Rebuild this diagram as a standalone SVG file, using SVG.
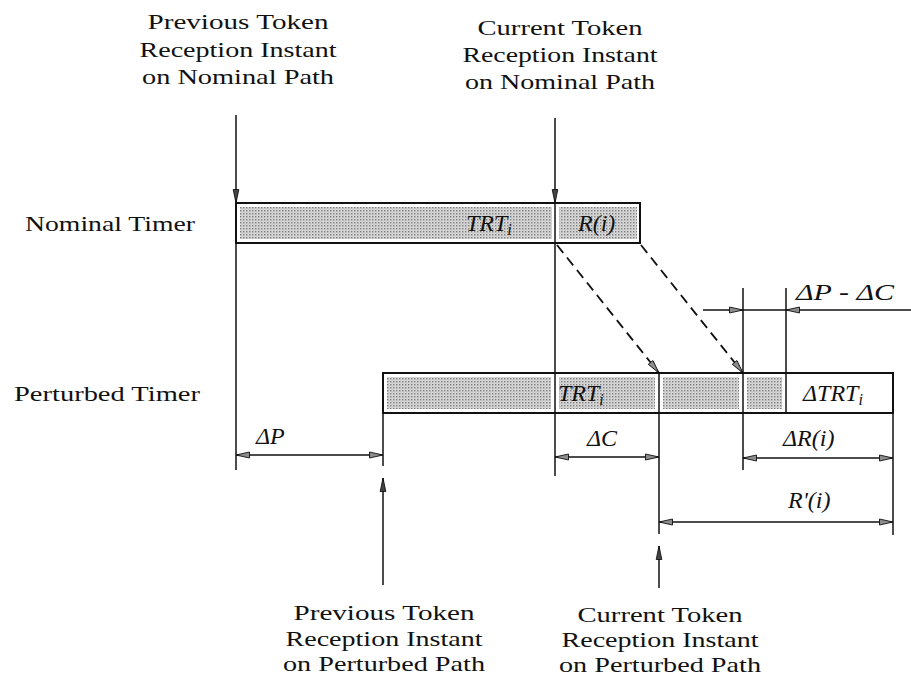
<svg xmlns="http://www.w3.org/2000/svg" width="911" height="677" viewBox="0 0 911 677">
<defs>
<pattern id="dots" width="3" height="3" patternUnits="userSpaceOnUse">
<rect width="3" height="3" fill="#dcdcdc"/>
<rect x="0" y="0" width="1.4" height="1.4" fill="#7a7a7a"/>
<rect x="1.5" y="1.5" width="1" height="1" fill="#a8a8a8"/>
</pattern>
<marker id="ah" markerUnits="userSpaceOnUse" markerWidth="16" markerHeight="8" refX="14" refY="4" orient="auto-start-reverse">
<path d="M0.5,1 L14,4 L0.5,7 z" fill="#8c8c8c" stroke="#111" stroke-width="0.9"/>
</marker>
<marker id="ahd" markerUnits="userSpaceOnUse" markerWidth="16" markerHeight="8" refX="14" refY="4" orient="auto">
<path d="M0.5,1.2 L14,4 L0.5,6.8 z" fill="#444" stroke="#111" stroke-width="0.9"/>
</marker>
</defs>
<style>
.lbl{font-family:"Liberation Serif","Times New Roman",serif;font-size:22px;fill:#111;text-anchor:middle}
.it{font-family:"Liberation Serif","Times New Roman",serif;font-size:24px;font-style:italic;fill:#111}
.sub{font-size:16px}
.box{fill:none;stroke:#111;stroke-width:2}
.sh{fill:url(#dots)}
.ln{stroke:#111;stroke-width:1.5;fill:none}
.dim{stroke:#111;stroke-width:1.5;fill:none;marker-start:url(#ah);marker-end:url(#ah)}
.dash{stroke:#111;stroke-width:1.8;fill:none;stroke-dasharray:10 6;marker-end:url(#ah)}
</style>

<g id="label-prev-nominal">
<text class="lbl" x="238" y="29" textLength="181" lengthAdjust="spacingAndGlyphs">Previous Token</text>
<text class="lbl" x="238" y="57" textLength="197" lengthAdjust="spacingAndGlyphs">Reception Instant</text>
<text class="lbl" x="238" y="84" textLength="192" lengthAdjust="spacingAndGlyphs">on Nominal Path</text>
</g>
<g id="label-cur-nominal">
<text class="lbl" x="560" y="35" textLength="165" lengthAdjust="spacingAndGlyphs">Current Token</text>
<text class="lbl" x="560" y="62" textLength="195" lengthAdjust="spacingAndGlyphs">Reception Instant</text>
<text class="lbl" x="560" y="89" textLength="190" lengthAdjust="spacingAndGlyphs">on Nominal Path</text>
</g>
<g id="label-nominal-timer">
<text class="lbl" x="110" y="231" textLength="170" lengthAdjust="spacingAndGlyphs">Nominal Timer</text>
</g>
<g id="label-perturbed-timer">
<text class="lbl" x="107" y="401" textLength="186" lengthAdjust="spacingAndGlyphs">Perturbed Timer</text>
</g>
<g id="label-prev-perturbed">
<text class="lbl" x="384" y="620" textLength="181" lengthAdjust="spacingAndGlyphs">Previous Token</text>
<text class="lbl" x="384" y="646" textLength="197" lengthAdjust="spacingAndGlyphs">Reception Instant</text>
<text class="lbl" x="384" y="671" textLength="202" lengthAdjust="spacingAndGlyphs">on Perturbed Path</text>
</g>
<g id="label-cur-perturbed">
<text class="lbl" x="660" y="622" textLength="165" lengthAdjust="spacingAndGlyphs">Current Token</text>
<text class="lbl" x="660" y="647" textLength="197" lengthAdjust="spacingAndGlyphs">Reception Instant</text>
<text class="lbl" x="660" y="672" textLength="202" lengthAdjust="spacingAndGlyphs">on Perturbed Path</text>
</g>

<g id="nominal-timer">
<rect class="sh" x="240" y="207" width="312" height="32"/>
<rect class="sh" x="559" y="207" width="78" height="32"/>
<rect class="box" x="236" y="203" width="404" height="40"/>
<line class="ln" x1="555" y1="203" x2="555" y2="243"/>
<text class="it" x="466" y="231">TRT<tspan class="sub" dy="4">i</tspan></text>
<text class="it" x="578" y="231">R(i)</text>
</g>

<g id="perturbed-timer">
<rect class="sh" x="387" y="377" width="164" height="32"/>
<rect class="sh" x="559" y="377" width="96" height="32"/>
<rect class="sh" x="663" y="377" width="76" height="32"/>
<rect class="sh" x="747" y="377" width="35" height="32"/>
<rect class="box" x="383" y="373" width="510" height="40"/>
<line class="ln" x1="659" y1="373" x2="659" y2="413"/>
<line class="ln" x1="743" y1="373" x2="743" y2="413"/>
<line class="ln" x1="786" y1="373" x2="786" y2="413"/>
<text class="it" x="558" y="401">TRT<tspan class="sub" dy="4">i</tspan></text>
<text class="it" x="803" y="401">ΔTRT<tspan class="sub" dy="4">i</tspan></text>
</g>

<g id="connectors">
<line class="ln" x1="236" y1="243" x2="236" y2="470"/>
<line x1="236" y1="115" x2="236" y2="203" stroke="#111" stroke-width="1.5" marker-end="url(#ahd)"/>
<line class="ln" x1="555" y1="243" x2="555" y2="476"/>
<line x1="555" y1="118" x2="555" y2="203" stroke="#111" stroke-width="1.5" marker-end="url(#ahd)"/>
<line class="dash" x1="557" y1="245" x2="659" y2="373"/>
<line class="dash" x1="641" y1="245" x2="743" y2="373"/>
<line class="ln" x1="743" y1="288" x2="743" y2="373"/>
<line class="ln" x1="786" y1="288" x2="786" y2="373"/>
<line x1="703" y1="310" x2="743" y2="310" stroke="#111" stroke-width="1.5" marker-end="url(#ah)"/>
<line class="ln" x1="743" y1="310" x2="786" y2="310"/>
<line x1="911" y1="310" x2="786" y2="310" stroke="#111" stroke-width="1.5" marker-end="url(#ah)"/>
<text class="it" x="796" y="300" textLength="98" lengthAdjust="spacingAndGlyphs">ΔP - ΔC</text>
<line class="ln" x1="383" y1="413" x2="383" y2="466"/>
<line class="ln" x1="659" y1="413" x2="659" y2="534"/>
<line class="ln" x1="743" y1="413" x2="743" y2="470"/>
<line class="ln" x1="893" y1="413" x2="893" y2="535"/>
<line class="dim" x1="236" y1="455" x2="383" y2="455"/>
<text class="it" x="256" y="444">ΔP</text>
<line class="dim" x1="555" y1="457" x2="659" y2="457"/>
<text class="it" x="587" y="446">ΔC</text>
<line class="dim" x1="743" y1="458" x2="893" y2="458"/>
<text class="it" x="783" y="446">ΔR(i)</text>
<line class="dim" x1="659" y1="522" x2="893" y2="522"/>
<text class="it" x="788" y="508">R'(i)</text>
<line x1="383" y1="585" x2="383" y2="478" stroke="#111" stroke-width="1.5" marker-end="url(#ahd)"/>
<line x1="659" y1="588" x2="659" y2="546" stroke="#111" stroke-width="1.5" marker-end="url(#ahd)"/>
</g>
</svg>
